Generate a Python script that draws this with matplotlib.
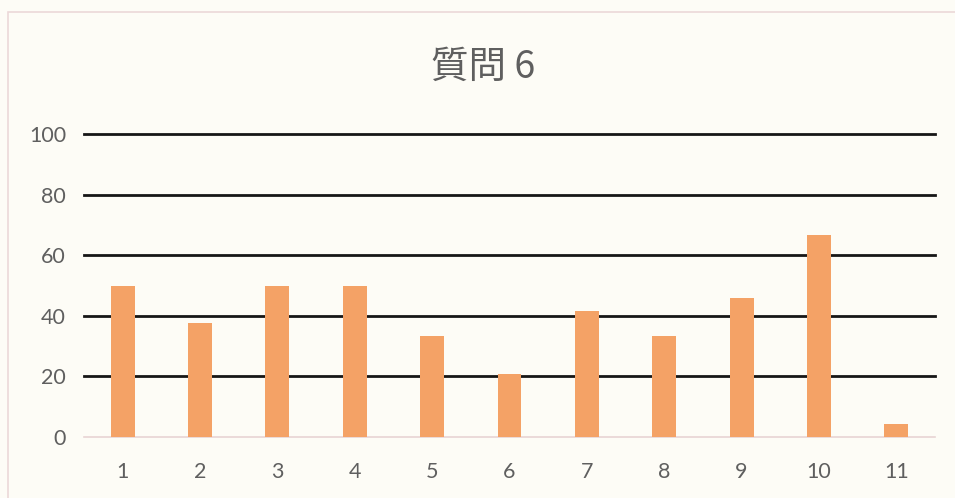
import matplotlib.pyplot as plt
from matplotlib.patches import Rectangle
import numpy as np

# answers per question, as % of 24 respondents
questions = ['1', '2', '3', '4', '5', '6', '7', '8', '9', '10', '11']
percent = [50.0, 37.5, 50.0, 50.0, 33.3, 20.8, 41.7, 33.3, 45.8, 66.7, 4.2]
yticks = [0, 20, 40, 60, 80, 100]
title = '質問 6'

plt.rcParams['font.family'] = ['Lato', 'Noto Sans CJK JP', 'DejaVu Sans']

bg = '#fdfcf6'
bar_color = '#f4a266'
text_color = '#5f5f5f'

fig = plt.figure(figsize=(9.55, 4.98), dpi=100, facecolor=bg)

# chart frame
fig.patches.append(Rectangle((8 / 955, -0.05), 1.0, 1 - 12 / 498 + 0.05,
                             transform=fig.transFigure, fill=False,
                             edgecolor='#ecd9d9', linewidth=1.2))

ax = fig.add_axes([84 / 955, (498 - 437) / 498, 851 / 955, 303 / 498])
ax.set_facecolor('none')

index = np.arange(len(questions))
ax.bar(index, percent, width=0.31, color=bar_color, zorder=3)

# horizontal gridlines, the zero line is the pale axis line instead
for y in yticks[1:]:
    ax.axhline(y, color='#161616', linewidth=2.0, zorder=2, clip_on=False)

ax.set_xlim(-0.5, len(questions) - 0.5)
ax.set_ylim(0, 100)
ax.set_xticks(index)
ax.set_xticklabels(questions)
ax.set_yticks(yticks)
ax.tick_params(axis='both', length=0, labelsize=15.5, colors=text_color)
ax.tick_params(axis='x', pad=18)
ax.tick_params(axis='y', pad=13)

for side in ['top', 'right', 'left']:
    ax.spines[side].set_visible(False)
ax.spines['bottom'].set_color('#e8d4d4')
ax.spines['bottom'].set_linewidth(1.2)

fig.text(483 / 955, 1 - 67 / 498, title, ha='center', va='center',
         fontsize=27, color=text_color,
         family=['Noto Sans CJK JP', 'DejaVu Sans'])

fig.savefig('out.png', dpi=100, facecolor=bg)
